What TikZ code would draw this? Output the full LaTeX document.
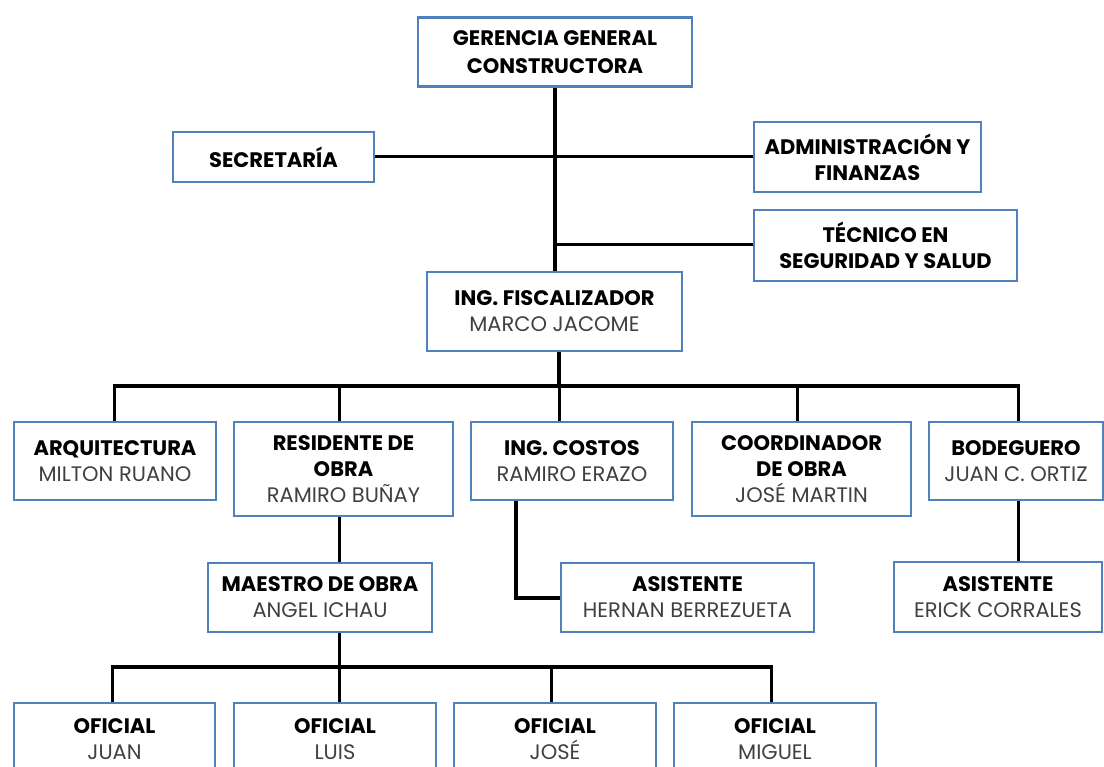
\documentclass[tikz,border=0pt]{standalone}
\usepackage{fontspec}
\setmainfont{Poppins}
\usetikzlibrary{shadows}
\definecolor{boxblue}{RGB}{79,129,189}
\definecolor{namegray}{RGB}{64,64,64}
% person name under a position title
\newcommand\pn[1]{{\mdseries\color{namegray}#1}}

\begin{document}
\begin{tikzpicture}[x=1pt,y=-1pt,
  box/.style={draw=boxblue, line width=2.2pt, fill=white, align=center,
    inner sep=0pt, font=\bfseries\fontsize{21}{26}\selectfont,
    drop shadow={shadow xshift=1.4pt, shadow yshift=-1.4pt, opacity=0.22}},
  wide/.style={font=\bfseries\fontsize{21}{27.5}\selectfont},
  wh/.style 2 args={minimum width=#1pt, minimum height=#2pt},
  wire/.style={line width=3pt, black},
  heavy/.style={line width=4pt, black}]

\useasboundingbox (0,0) rectangle (1104,767);
\clip (0,0) rectangle (1104,767);

% ---- boxes
\node[box, wide, wh={274}{69}] (ger) at (555,52) {GERENCIA GENERAL\\CONSTRUCTORA};
\node[box, wh={201}{50}] (sec) at (273.5,157) {SECRETARÍA};
\node[box, wh={227}{70}] (adm) at (867.5,157) {ADMINISTRACIÓN Y\\FINANZAS};
\node[box, wh={263}{71}] (tec) at (885.5,245.5) {TÉCNICO EN\\SEGURIDAD Y SALUD};
\node[box, wh={255}{79}] (fis) at (554.5,311.5) {ING. FISCALIZADOR\\\pn{MARCO JACOME}};

\node[box, wh={202}{78}] (arq) at (115,461) {ARQUITECTURA\\\pn{MILTON RUANO}};
\node[box, wh={219}{94}] (res) at (343.5,469) {RESIDENTE DE\\OBRA\\\pn{RAMIRO BUÑAY}};
\node[box, wh={202}{78}] (cos) at (572,461) {ING. COSTOS\\\pn{RAMIRO ERAZO}};
\node[box, wh={219}{94}] (coo) at (801.5,469) {COORDINADOR\\DE OBRA\\\pn{JOSÉ MARTIN}};
\node[box, wh={174}{78}] (bod) at (1016,461) {BODEGUERO\\\pn{JUAN C. ORTIZ}};

\node[box, wh={224}{69}] (mae) at (320,597.5) {MAESTRO DE OBRA\\\pn{ANGEL ICHAU}};
\node[box, wh={253}{69}] (ahe) at (687.5,597.5) {ASISTENTE\\\pn{HERNAN BERREZUETA}};
\node[box, wh={208}{70}] (aer) at (998,597) {ASISTENTE\\\pn{ERICK CORRALES}};

\node[box, wh={201}{72}] (of1) at (114.5,739) {OFICIAL\\\pn{JUAN}};
\node[box, wh={202}{72}] (of2) at (335,739) {OFICIAL\\\pn{LUIS}};
\node[box, wh={202}{72}] (of3) at (555,739) {OFICIAL\\\pn{JOSÉ}};
\node[box, wh={202}{72}] (of4) at (775,739) {OFICIAL\\\pn{MIGUEL}};

% ---- upper spine
\draw[heavy] (ger.south) -- (ger.south |- fis.north);
\draw[wire] (sec.east) -- (adm.west);
\coordinate (jt) at (555,245);
\draw[wire] (jt) -- (jt -| tec.west);

% ---- bus under the supervisor
\coordinate (bL) at (114,386);
\coordinate (bR) at (1018,386);
\coordinate (b1) at (114,386);
\coordinate (b2) at (339,386);
\coordinate (b3) at (559,386);
\coordinate (b4) at (797,386);
\coordinate (b5) at (1018,386);
\draw[heavy] (b3 |- fis.south) -- (b3);
\draw[heavy] ([xshift=-1.5pt]bL) -- ([xshift=1.5pt]bR);
\draw[wire] (b1) -- (b1 |- arq.north);
\draw[wire] (b2) -- (b2 |- res.north);
\draw[wire] (b3) -- (b3 |- cos.north);
\draw[wire] (b4) -- (b4 |- coo.north);
\draw[wire] (b5) -- (b5 |- bod.north);

% ---- second level
\draw[wire] (b2 |- res.south) -- (b2 |- mae.north);
\coordinate (cc) at (516,501);
\draw[heavy] (cc |- cos.south) -- (cc |- ahe.west) -- (ahe.west);
\draw[wire] (b5 |- bod.south) -- (b5 |- aer.north);

% ---- bus under the foreman
\coordinate (o1) at (112,667);
\coordinate (o2) at (339,667);
\coordinate (o3) at (551,667);
\coordinate (o4) at (771,667);
\draw[wire] (o2 |- mae.south) -- (o2);
\draw[heavy] ([xshift=-1.5pt]o1) -- ([xshift=1.5pt]o4);
\draw[wire] (o1) -- (o1 |- of1.north);
\draw[wire] (o2) -- (o2 |- of2.north);
\draw[wire] (o3) -- (o3 |- of3.north);
\draw[wire] (o4) -- (o4 |- of4.north);
\end{tikzpicture}
\end{document}
